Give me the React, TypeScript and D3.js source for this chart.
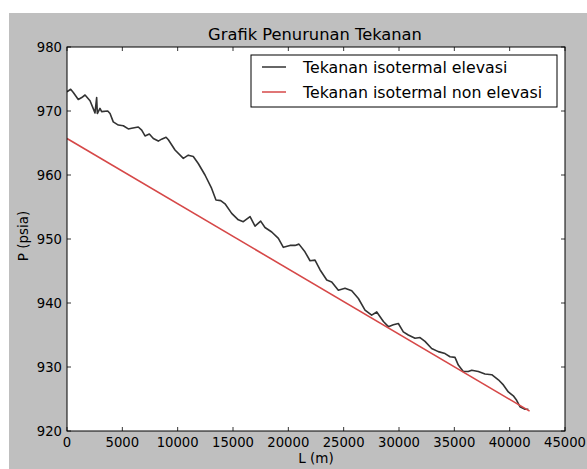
import React from 'react';
import * as d3 from 'd3';

// Tekanan isotermal elevasi (black)
const elevasiL = [0, 330, 570, 1020, 1330, 1630, 2080, 2530, 2680, 2740, 2980, 3130, 3680, 3890, 4180, 4640, 5090, 5540, 5840, 6440, 6750, 7050, 7440, 7800, 8250, 8550, 8950, 9160, 9760, 10510, 10960, 11410, 11860, 12470, 13070, 13460, 13890, 14280, 14880, 15480, 15930, 16540, 16990, 17500, 17890, 18500, 19100, 19550, 20150, 20600, 20960, 21500, 21960, 22410, 22860, 23470, 23920, 24520, 25120, 25730, 26330, 26930, 27530, 27990, 28590, 29040, 29490, 29940, 30390, 30840, 31450, 31900, 32350, 32950, 33550, 34160, 34610, 35060, 35360, 35810, 36260, 36570, 37170, 37770, 38380, 38980, 39430, 39880, 40330, 40630, 40930, 41390, 41690];
const elevasiP = [973.0, 973.4, 972.9, 971.8, 972.1, 972.5, 971.6, 969.7, 972.1, 969.6, 970.4, 969.9, 970.0, 969.6, 968.3, 967.8, 967.7, 967.2, 967.3, 967.5, 967.0, 966.1, 966.4, 965.7, 965.3, 965.6, 965.9, 965.5, 963.9, 962.6, 963.1, 962.9, 961.8, 960.0, 957.9, 956.1, 956.0, 955.5, 954.0, 953.0, 952.7, 953.5, 952.0, 952.8, 951.8, 951.1, 950.1, 948.7, 949.0, 949.0, 949.2, 948.0, 946.6, 946.7, 945.2, 943.6, 943.3, 942.0, 942.3, 941.9, 940.7, 938.9, 938.1, 938.6, 937.1, 936.3, 936.6, 936.8, 935.5, 935.0, 934.5, 934.6, 934.0, 932.9, 932.4, 932.1, 931.6, 931.5, 930.3, 929.3, 929.3, 929.5, 929.3, 928.9, 928.8, 928.0, 927.2, 926.1, 925.5, 924.8, 923.8, 923.4, 923.4];

// Tekanan isotermal non elevasi (red)
const nonElevasiL = [0, 41800];
const nonElevasiP = [965.7, 923.1];

const xTicks = [0, 5000, 10000, 15000, 20000, 25000, 30000, 35000, 40000, 45000];
const yTicks = [920, 930, 940, 950, 960, 970, 980];
const legendLabels = ['Tekanan isotermal elevasi', 'Tekanan isotermal non elevasi'];

const W = 587;
const H = 469;
const left = 67, right = 565, top = 47, bottom = 431;
const font = 'DejaVu Sans, sans-serif';

export default function App() {
  const x = d3.scaleLinear().domain([0, 45000]).range([left, right]);
  const y = d3.scaleLinear().domain([920, 980]).range([bottom, top]);

  const line = d3.line<[number, number]>()
    .x(d => x(d[0]))
    .y(d => y(d[1]));

  const blackPath = line(elevasiL.map((l, i) => [l, elevasiP[i]]));
  const redPath = line(nonElevasiL.map((l, i) => [l, nonElevasiP[i]]));

  const colors = ['#333333', '#d64848'];

  return (
    <div style={{ position: 'absolute', left: 0, top: 0 }}>
      <svg width={W} height={H} style={{ display: 'block' }}>
        <rect x={0} y={0} width={W} height={H} fill="#ffffff" />
        <rect x={9} y={13} width={W - 9} height={H - 13} fill="#bfbfbf" />
        <rect x={left} y={top} width={right - left} height={bottom - top} fill="#ffffff" />

        <defs>
          <clipPath id="plot">
            <rect x={left} y={top} width={right - left} height={bottom - top} />
          </clipPath>
        </defs>

        <g clipPath="url(#plot)" fill="none" strokeWidth={1.6} strokeLinejoin="round">
          <path d={blackPath || ''} stroke={colors[0]} />
          <path d={redPath || ''} stroke={colors[1]} />
        </g>

        {/* ticks */}
        <g stroke="#000" strokeWidth={0.8}>
          {xTicks.map(t => (
            <g key={'xt' + t}>
              <line x1={x(t)} x2={x(t)} y1={bottom} y2={bottom - 4} />
              <line x1={x(t)} x2={x(t)} y1={top} y2={top + 4} />
            </g>
          ))}
          {yTicks.map(t => (
            <g key={'yt' + t}>
              <line x1={left} x2={left + 4} y1={y(t)} y2={y(t)} />
              <line x1={right} x2={right - 4} y1={y(t)} y2={y(t)} />
            </g>
          ))}
        </g>

        <rect x={left} y={top} width={right - left} height={bottom - top} fill="none" stroke="#000" strokeWidth={1} />

        <g fontFamily={font} fontSize={13.2} fill="#000">
          {xTicks.map(t => (
            <text key={'xl' + t} x={x(t)} y={446.5} textAnchor="middle">{t}</text>
          ))}
          {yTicks.map(t => (
            <text key={'yl' + t} x={62} y={y(t) + 4.8} textAnchor="end">{t}</text>
          ))}
        </g>

        <text x={315} y={40} textAnchor="middle" fontFamily={font} fontSize={16.3}>
          Grafik Penurunan Tekanan
        </text>
        <text x={(left + right) / 2} y={463} textAnchor="middle" fontFamily={font} fontSize={13.5}>
          L (m)
        </text>
        <text transform={`translate(28,236) rotate(-90)`} textAnchor="middle" fontFamily={font} fontSize={13.5}>
          P (psia)
        </text>

        {/* legend */}
        <rect x={251} y={55} width={306} height={52} fill="#fff" stroke="#000" strokeWidth={1} />
        {legendLabels.map((lab, i) => (
          <g key={lab}>
            <line x1={262} x2={286} y1={67 + i * 25} y2={67 + i * 25} stroke={colors[i]} strokeWidth={1.5} />
            <text x={303} y={72.5 + i * 25} fontFamily={font} fontSize={15.8}>{lab}</text>
          </g>
        ))}
      </svg>
    </div>
  );
}
